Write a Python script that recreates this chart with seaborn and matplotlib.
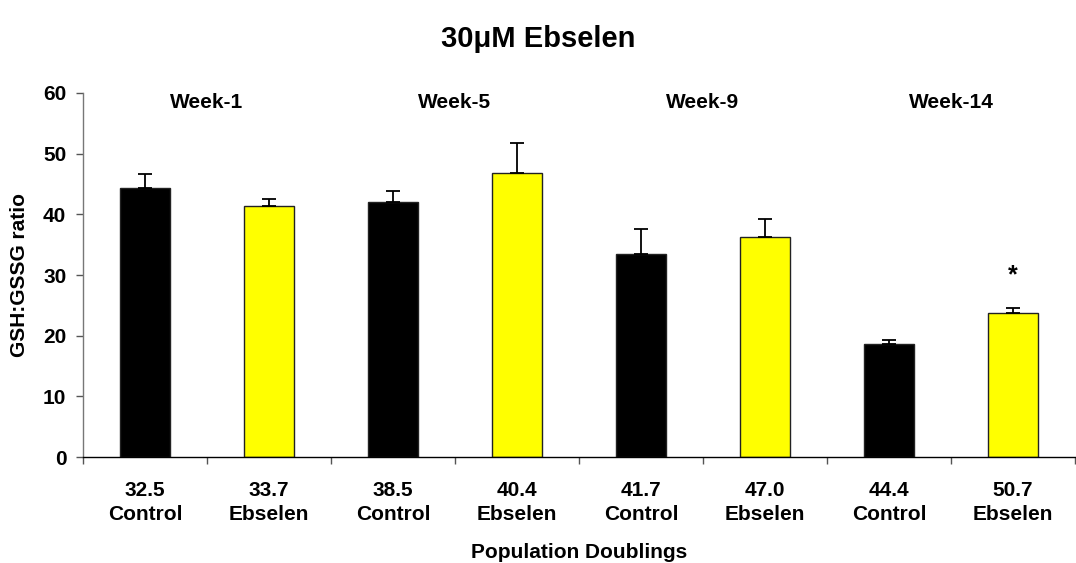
import matplotlib
matplotlib.use("Agg")
import matplotlib.pyplot as plt
import seaborn as sns
import pandas as pd
import numpy as np

# Data
pop_doublings = ["32.5", "33.7", "38.5", "40.4", "41.7", "47.0", "44.4", "50.7"]
groups = ["Control", "Ebselen", "Control", "Ebselen", "Control", "Ebselen", "Control", "Ebselen"]
ratio_mean = [44.4, 41.4, 42.1, 46.8, 33.5, 36.3, 18.6, 23.8]
ratio_sem = [2.3, 1.1, 1.7, 5.0, 4.0, 3.0, 0.7, 0.8]
week_labels = ["Week-1", "Week-5", "Week-9", "Week-14"]
significant = [False, False, False, False, False, False, False, True]

sns.set_theme(style="white")
plt.rcParams["font.family"] = ["Liberation Sans", "DejaVu Sans"]
plt.rcParams["font.weight"] = "bold"
plt.rcParams["text.color"] = "black"
plt.rcParams["axes.labelcolor"] = "black"
plt.rcParams["xtick.color"] = "black"
plt.rcParams["ytick.color"] = "black"

labels = [f"{p}\n{g}" for p, g in zip(pop_doublings, groups)]
df = pd.DataFrame({"label": labels, "group": groups, "ratio": ratio_mean})

fig = plt.figure(figsize=(10.76, 5.63), dpi=100)
ax = fig.add_axes([0.0771, 0.188, 0.9219, 0.647])

sns.barplot(data=df, x="label", y="ratio", hue="group",
            palette={"Control": "#000000", "Ebselen": "#FFFF00"},
            saturation=1, dodge=False, width=0.41,
            edgecolor="#222222", linewidth=1.0,
            errorbar=None, legend=False, ax=ax)

x = np.arange(len(labels))
ax.errorbar(x, ratio_mean, yerr=[np.zeros(len(ratio_sem)), ratio_sem],
            fmt="none", ecolor="black", elinewidth=1.3, capsize=5, capthick=1.3)

for xi, m, s, sig in zip(x, ratio_mean, ratio_sem, significant):
    if sig:
        ax.text(xi, 30.0, "*", ha="center", va="center", fontsize=18, fontweight="bold")

for i, wk in enumerate(week_labels):
    ax.text(2 * i + 0.5, 58.4, wk, ha="center", va="center", fontsize=15, fontweight="bold")

ax.set_xlim(-0.5, len(labels) - 0.5)
ax.set_ylim(0, 60)
ax.set_yticks(range(0, 61, 10))
ax.set_xticks(x)
ax.set_xticklabels(labels, fontsize=15, fontweight="bold", linespacing=1.33)
ax.set_xticks(np.arange(-0.5, len(labels), 1.0), minor=True)
ax.tick_params(axis="x", which="major", length=0, pad=17)
ax.tick_params(axis="x", which="minor", length=5, width=1, color="#555555", direction="out", bottom=True)
ax.tick_params(axis="y", length=5, width=1, color="#555555", labelcolor="black",
               direction="out", left=True, labelsize=15, pad=7)
for t in ax.get_yticklabels():
    t.set_fontweight("bold")

ax.set_ylabel("GSH:GSSG ratio", fontsize=15, fontweight="bold", labelpad=10)
ax.set_xlabel("Population Doublings", fontsize=15, fontweight="bold", labelpad=14)

for side in ["top", "right"]:
    ax.spines[side].set_visible(False)
ax.spines["left"].set_color("#777777")
ax.spines["left"].set_linewidth(1.0)
ax.spines["bottom"].set_color("#000000")
ax.spines["bottom"].set_linewidth(1.0)

fig.text(0.5, 0.930, "30\u03bcM Ebselen", ha="center", va="center", fontsize=21, fontweight="bold")

fig.savefig("out.png", dpi=100, facecolor="white")
